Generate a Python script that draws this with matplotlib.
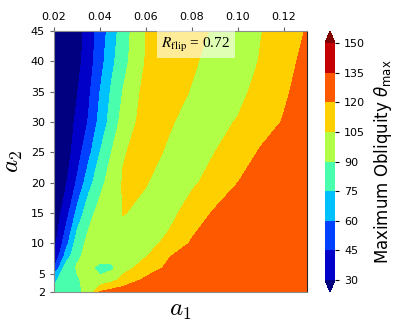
import numpy as np
import matplotlib
matplotlib.use("Agg")
import matplotlib.pyplot as plt

# grid of the scan
a1 = [0.02, 0.025, 0.03, 0.035, 0.04, 0.045, 0.05, 0.06, 0.07, 0.08, 0.09, 0.10, 0.11, 0.12, 0.13]
a2 = [2, 4, 6, 8, 10, 15, 20, 25, 30, 35, 40, 45]

# maximum obliquity (deg), one row per a2 value
theta_max = [
    [79, 83, 88.5, 92, 121, 126, 128, 130, 131, 132, 133, 133, 134, 134, 134],     # a2=2
    [72, 82, 89, 93, 92, 100, 110, 123, 128, 131, 132, 133, 133, 134, 134],         # a2=4
    [44, 82, 91, 92, 87, 87, 99, 112, 123, 129, 131, 132, 133, 133.5, 134],         # a2=6
    [30, 64, 88, 93, 95, 96, 98, 104, 119, 126, 130, 132, 133, 133.5, 134],         # a2=8
    [25, 53, 83, 94, 96, 98, 99, 101, 108, 122, 128, 131, 132, 133, 134],           # a2=10
    [20, 37, 64, 85, 95, 98, 105.5, 102, 101, 111, 122, 128, 131, 133, 134],        # a2=15
    [16, 28, 47, 69, 86, 96, 106, 105.5, 100, 103, 110, 120, 127, 131, 133],        # a2=20
    [14, 22, 38, 55.5, 75, 90, 104, 110, 103, 99, 105, 113, 121.5, 128, 131],       # a2=25
    [12, 21, 33, 46, 65, 81, 95.5, 112, 106.5, 100, 101, 106, 114, 121, 127],       # a2=30
    [10, 19, 29, 42, 60, 77, 90.5, 110, 111, 104, 99, 101, 110, 118, 126],          # a2=35
    [9, 18, 25, 38, 54, 71, 85, 106, 112, 107, 100, 98, 106, 115, 124],             # a2=40
    [8, 16, 22, 37, 51.5, 67, 83, 105.5, 112, 110, 103, 98, 104.5, 112, 121],       # a2=45
]

levels = [30, 45, 60, 75, 90, 105, 120, 135, 150]
xticks = [0.02, 0.04, 0.06, 0.08, 0.10, 0.12]
yticks = [2, 5, 10, 15, 20, 25, 30, 35, 40, 45]
r_flip = 0.72

fig = plt.figure(figsize=(3.95, 3.27), dpi=100)
ax = fig.add_axes([54 / 395, 1 - 292 / 327, 253 / 395, 261 / 327])
cax = fig.add_axes([325 / 395, 1 - 292 / 327, 10 / 395, 261 / 327])

X, Y = np.meshgrid(a1, a2)
cs = ax.contourf(X, Y, np.array(theta_max), levels=levels, cmap="jet", extend="both")

ax.set_xlim(0.02, 0.13)
ax.set_ylim(2, 45)
ax.xaxis.tick_top()
ax.set_xticks(xticks)
ax.set_xticklabels(["%.2f" % v for v in xticks])
ax.set_yticks(yticks)
ax.tick_params(labelsize=8, length=3, color="0.4")
ax.xaxis.set_label_position("bottom")
ax.set_xlabel("$a_1$", fontsize=18, math_fontfamily="cm", labelpad=4)
ax.set_ylabel("$a_2$", fontsize=18, math_fontfamily="cm", labelpad=4)
for s in ["top", "bottom", "left"]:
    ax.spines[s].set_color("0.55")
ax.spines["right"].set_color("0.15")

# label of the run, top of the panel
ax.text(0.56, 0.982, r"$R_{\rm flip}$ = %.2f" % r_flip, transform=ax.transAxes,
        ha="center", va="top", fontsize=11, family="Liberation Serif", math_fontfamily="stix",
        bbox=dict(boxstyle="square,pad=0.3", facecolor="white", alpha=0.6, edgecolor="none"))

cb = fig.colorbar(cs, cax=cax, ticks=levels)
cb.ax.tick_params(labelsize=8, length=3)
cb.outline.set_visible(False)
cb.set_label(r"Maximum Obliquity $\theta_{\rm max}$", fontsize=12, labelpad=5)

fig.savefig("out.png", dpi=100)
